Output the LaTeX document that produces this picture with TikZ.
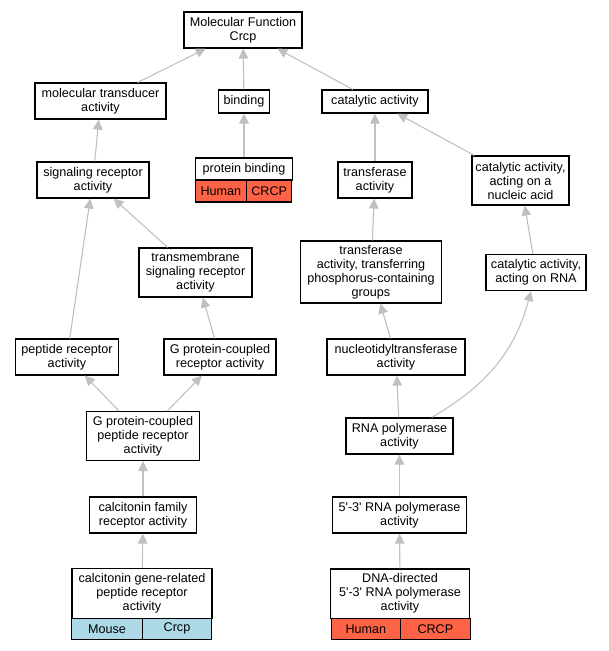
\documentclass[tikz,border=0pt]{standalone}
\usepackage{fontspec}
\setmainfont{Liberation Sans}[Ligatures=TeXOff]
\usetikzlibrary{arrows.meta}
\definecolor{edgegray}{RGB}{192,192,192}
\definecolor{tomatored}{RGB}{255,99,71}
\definecolor{lblue}{RGB}{173,216,230}
\begin{document}
\begin{tikzpicture}[x=1pt,y=-1pt,
 box/.style={draw=black, line width=1.1pt, fill=white, align=center, inner xsep=3pt, inner ysep=0pt, font=\fontsize{12.6}{14}\selectfont},
 one/.style={box, minimum height=23pt},
 two/.style={box, minimum height=36pt},
 three/.style={box, minimum height=49pt},
 four/.style={box, minimum height=62pt},
 cell/.style={box, minimum height=21pt},
 conn/.style={draw=edgegray, line width=1.1pt, -{Triangle[length=10pt,width=9.5pt,fill=edgegray]}}]
\useasboundingbox (0,0) rectangle (609,651);

\node[two, minimum width=118pt] (mf) at (243,30) {Molecular Function\\Crcp};
\node[two, minimum width=131pt] (mt) at (100.5,101) {molecular transducer\\activity};
\node[one, minimum width=51pt] (bind) at (244,101.5) {binding};
\node[one, minimum width=106pt] (cat) at (375,101.5) {catalytic activity};
\node[two, minimum width=112pt] (sig) at (93,180) {signaling receptor\\activity};
\node[box, minimum width=97pt, minimum height=22pt] (pb) at (244,169) {protein binding};
\node[cell, minimum width=51.7pt, minimum height=22pt, fill=tomatored] (pbh) at (220.9,191) {Human};
\node[cell, minimum width=45pt, minimum height=22pt, fill=tomatored] (pbc) at (269.2,191) {CRCP};
\node[two, minimum width=74pt] (tra) at (375,180) {transferase\\activity};
\node[three, minimum width=97pt] (nuc) at (520.5,180.5) {catalytic activity,\\acting on a\\nucleic acid};
\node[three, minimum width=113pt] (tms) at (195.5,272.5) {transmembrane\\signaling receptor\\activity};
\node[four, minimum width=141pt] (pho) at (371,272) {transferase\\activity, transferring\\phosphorus-containing\\groups};
\node[two, minimum width=100pt] (rna) at (536,272.5) {catalytic activity,\\acting on RNA};
\node[two, minimum width=103pt] (pep) at (67,357) {peptide receptor\\activity};
\node[two, minimum width=112pt] (gpcr) at (220,357) {G protein-coupled\\receptor activity};
\node[two, minimum width=138pt] (nuct) at (396,357) {nucleotidyltransferase\\activity};
\node[three, minimum width=113pt] (gpcp) at (143,436) {G protein-coupled\\peptide receptor\\activity};
\node[two, minimum width=107pt] (rnap) at (399.5,436) {RNA polymerase\\activity};
\node[two, minimum width=107pt] (calf) at (143,515) {calcitonin family\\receptor activity};
\node[two, minimum width=134pt] (p53) at (399.5,515) {5'-3' RNA polymerase\\activity};
\node[box, minimum width=140pt, minimum height=50pt] (cgrp) at (142,593.3) {calcitonin gene-related\\peptide receptor\\activity};
\node[cell, minimum width=70.6pt, fill=lblue] (cgm) at (107,628.8) {Mouse};
\node[cell, minimum width=69.4pt, fill=lblue] (cgc) at (177,628.8) {Crcp};
\node[box, minimum width=139pt, minimum height=49.3pt] (dna) at (400,593.6) {DNA-directed\\5'-3' RNA polymerase\\activity};
\node[cell, minimum width=68.3pt, fill=tomatored] (dnh) at (365.9,628.8) {Human};
\node[cell, minimum width=70.7pt, fill=tomatored] (dnc) at (435.4,628.8) {CRCP};

\draw[conn] (mt) -- (mf);
\draw[conn] (bind) -- (mf);
\draw[conn] (cat) -- (mf);
\draw[conn] (sig) -- (mt);
\draw[conn] (pb) -- (bind);
\draw[conn] (tra) -- (cat);
\draw[conn] (nuc) -- (cat);
\draw[conn] (tms) -- (sig);
\draw[conn] (pep) -- (sig);
\draw[conn] (gpcr) -- (tms);
\draw[conn] (pho) -- (tra);
\draw[conn] (rna) -- (nuc);
\draw[conn] (nuct) -- (pho);
\draw[conn] (gpcp) -- (pep);
\draw[conn] (gpcp) -- (gpcr);
\draw[conn] (rnap) -- (nuct);
\draw[conn] (rnap) to[out=30,in=-105] (rna);
\draw[conn] (calf) -- (gpcp);
\draw[conn] (p53) -- (rnap);
\draw[conn] (cgrp) -- (calf);
\draw[conn] (dna) -- (p53);
\end{tikzpicture}
\end{document}
